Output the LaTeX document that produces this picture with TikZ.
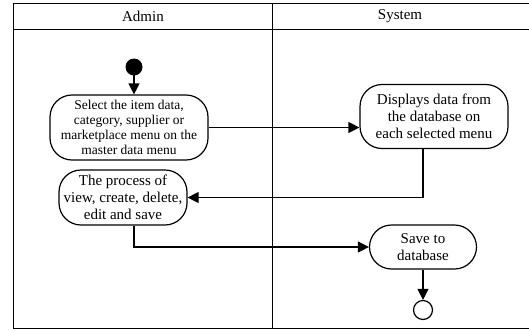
\documentclass[tikz,border=0pt]{standalone}
\usepackage{fontspec}
\setmainfont{Liberation Serif}
\usepackage{tikz}
\usetikzlibrary{arrows.meta}
\tikzset{>={Triangle[length=11pt,width=11pt]}}
\tikzset{
  act/.style={draw, line width=1.2pt, rounded corners=22pt, align=center, inner sep=0pt},
  flow/.style={->, line width=1.2pt},
}

\begin{document}
\begin{tikzpicture}[x=1pt, y=-1pt]

\useasboundingbox (0,0) rectangle (529,330);

% swimlanes
\draw[line width=1.4pt] (529,3.3) -- (13.3,3.3) -- (13.3,328.3) -- (529,328.3);
\draw[line width=1.4pt] (13.3,29.5) -- (529,29.5);
\draw[line width=1.4pt] (272.5,3.3) -- (272.5,328.3);
\node (admin) at (143,16.5) {\fontsize{15}{17}\selectfont Admin};
\node (system) at (400,16.5) {\fontsize{15}{17}\selectfont System};

% activities
\fill[black] (134,67) circle[radius=8.5] coordinate (start);
\node[act, minimum width=158pt, minimum height=65pt, font=\fontsize{13.5}{15}\selectfont] (sel) at (129,127.5) {Select the item data,\\category, supplier or\\marketplace menu on the\\master data menu};
\node[act, minimum width=148pt, minimum height=64pt, font=\fontsize{15}{17}\selectfont] (disp) at (434,116.5) {Displays data from\\the database on\\each selected menu};
\node[act, minimum width=128pt, minimum height=55pt, font=\fontsize{15}{17}\selectfont] (proc) at (123,197.5) {The process of\\view, create, delete,\\edit and save};
\node[act, minimum width=107pt, minimum height=44pt, font=\fontsize{15}{17}\selectfont] (save) at (423,247) {Save to\\database};
\node[draw, circle, line width=1.2pt, minimum size=19pt, inner sep=0pt] (end) at (423,310) {};

% flows
\draw[flow] (start) -- (sel.north -| start);
\draw[flow] (sel.east) -- (sel.east -| disp.west);
\draw[flow] (disp.south -| save) |- (proc.east);
\draw[flow] (proc.south -| start) |- (save.west);
\draw[flow] (save) -- (end);

\end{tikzpicture}
\end{document}
